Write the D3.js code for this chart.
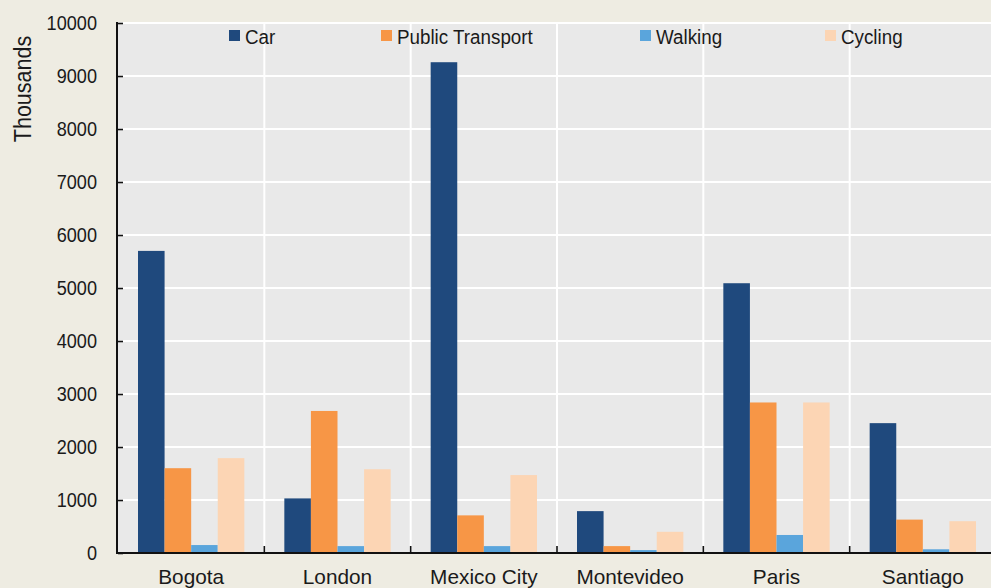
<!DOCTYPE html>
<html>
<head>
<meta charset="utf-8">
<script src="https://cdn.jsdelivr.net/npm/d3@7"></script>
<style>
  html, body { margin: 0; padding: 0; background: #eeece2; }
  svg { display: block; }
  text { font-family: "Liberation Sans", Arimo, Arial, sans-serif; fill: #1a1a1a; }
</style>
</head>
<body>
<svg id="chart" width="991" height="588"></svg>
<script>
// Trips by mode, in thousands
const cities = ["Bogota", "London", "Mexico City", "Montevideo", "Paris", "Santiago"];
const modes = ["Car", "Public Transport", "Walking", "Cycling"];
const car = [5700, 1030, 9260, 790, 5090, 2450];
const publicTransport = [1600, 2680, 710, 130, 2840, 630];
const walking = [150, 130, 130, 55, 340, 70];
const cycling = [1790, 1580, 1470, 400, 2840, 600];
const yTicks = [0, 1000, 2000, 3000, 4000, 5000, 6000, 7000, 8000, 9000, 10000];
const colors = ["#1f497d", "#f79646", "#5aa5dc", "#fcd5b4"];

const series = [car, publicTransport, walking, cycling];

const svg = d3.select("#chart");
const plot = { left: 118, top: 23, right: 996, bottom: 553 };

const x0 = d3.scaleBand().domain(cities).range([plot.left, plot.right]).paddingInner(0).paddingOuter(0);
const x1 = d3.scaleBand().domain(modes).range([20, x0.bandwidth() - 20]).padding(0);
const y = d3.scaleLinear().domain([0, 10000]).range([plot.bottom, plot.top]);

// plot background
svg.append("rect")
  .attr("x", plot.left).attr("y", plot.top - 1)
  .attr("width", plot.right - plot.left).attr("height", plot.bottom - plot.top + 1)
  .attr("fill", "#e9e9e9");

// horizontal gridlines
svg.append("g").selectAll("line").data(yTicks.filter(d => d > 0)).join("line")
  .attr("x1", plot.left).attr("x2", plot.right)
  .attr("y1", d => y(d)).attr("y2", d => y(d))
  .attr("stroke", "#ffffff").attr("stroke-width", 2);

// vertical gridlines between cities
svg.append("g").selectAll("line").data(cities.slice(1)).join("line")
  .attr("x1", d => x0(d)).attr("x2", d => x0(d))
  .attr("y1", plot.top).attr("y2", plot.bottom)
  .attr("stroke", "#ffffff").attr("stroke-width", 2);

// bars
const groups = svg.append("g").selectAll("g").data(cities).join("g")
  .attr("transform", d => `translate(${x0(d)},0)`);
groups.selectAll("rect")
  .data((d, i) => modes.map((m, j) => ({ mode: m, value: series[j][i], color: colors[j] })))
  .join("rect")
  .attr("x", d => x1(d.mode))
  .attr("width", x1.bandwidth())
  .attr("y", d => y(d.value))
  .attr("height", d => y(0) - y(d.value))
  .attr("fill", d => d.color);

// y axis
const yAxis = svg.append("g").attr("transform", `translate(${plot.left},0)`)
  .call(d3.axisRight(y).tickValues(yTicks).tickSize(5).tickFormat(""));
yAxis.select(".domain").remove();
yAxis.selectAll(".tick line").attr("stroke", "#111").attr("stroke-width", 1.6);
svg.append("line")
  .attr("x1", plot.left - 1).attr("x2", plot.left - 1)
  .attr("y1", plot.top - 1).attr("y2", plot.bottom + 1)
  .attr("stroke", "#111").attr("stroke-width", 2);

svg.append("g").selectAll("text").data(yTicks).join("text")
  .attr("transform", d => `translate(97,${y(d) + 6.5}) scale(0.98,1.08)`)
  .attr("text-anchor", "end")
  .style("font-size", "18.5px")
  .text(d => d);

// x axis
svg.append("line")
  .attr("x1", plot.left - 2).attr("x2", plot.right)
  .attr("y1", plot.bottom).attr("y2", plot.bottom)
  .attr("stroke", "#111").attr("stroke-width", 2);
svg.append("g").selectAll("line").data(cities.slice(1)).join("line")
  .attr("x1", d => x0(d)).attr("x2", d => x0(d))
  .attr("y1", plot.bottom).attr("y2", plot.bottom - 7)
  .attr("stroke", "#111").attr("stroke-width", 1.6);

svg.append("g").selectAll("text").data(cities).join("text")
  .attr("transform", d => `translate(${x0(d) + x0.bandwidth() / 2},584) scale(1.04,1.05)`)
  .attr("text-anchor", "middle")
  .style("font-size", "20px")
  .text(d => d);

// y axis title
svg.append("text")
  .attr("transform", "translate(31,89) rotate(-90) scale(1.05,1.15)")
  .attr("text-anchor", "middle")
  .style("font-size", "20.5px")
  .text("Thousands");

// legend
const legendX = [229, 381, 640, 825];
const legend = svg.append("g").selectAll("g").data(modes).join("g")
  .attr("transform", (d, i) => `translate(${legendX[i]},30)`);
legend.append("rect").attr("width", 11).attr("height", 11).attr("fill", (d, i) => colors[i]);
legend.append("text")
  .attr("transform", "translate(16,13.5) scale(1.0,1.06)")
  .style("font-size", "18.8px")
  .text(d => d);
</script>
</body>
</html>
